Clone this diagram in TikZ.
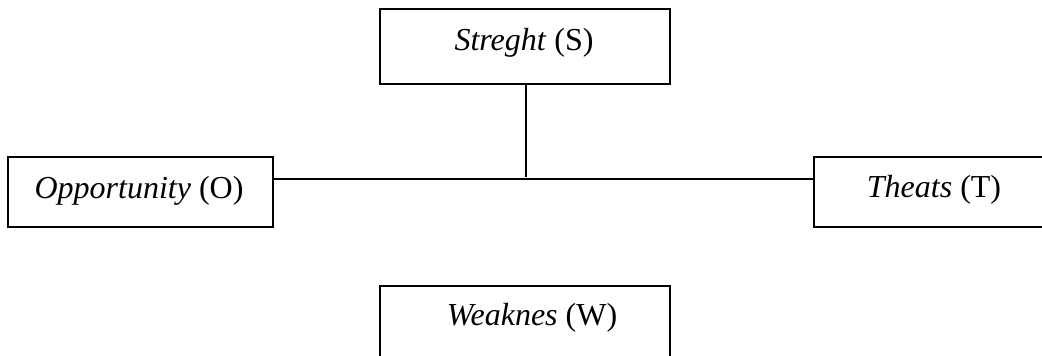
\documentclass[tikz,border=0pt]{standalone}
\usepackage{fontspec}
\setmainfont{Liberation Serif}
\begin{document}
\begin{tikzpicture}[x=1pt,y=-1pt,
  box/.style={draw=black,line width=2pt,rectangle,inner sep=0pt,fill=none},
  lbl/.style={inner sep=0pt,font=\fontsize{32}{38}\selectfont},
  conn/.style={draw=black,line width=2pt}]
\useasboundingbox[fill=white] (0,0) rectangle (1042,356);
\node[box,minimum width=290pt,minimum height=75pt] (S) at (525,46.5) {};
\node[box,minimum width=265pt,minimum height=70pt] (O) at (140.5,192) {};
\node[box,minimum width=238pt,minimum height=70pt] (T) at (933,192) {};
\node[box,minimum width=290pt,minimum height=74pt] (W) at (525,323) {};
\node[lbl] (St) at (524,43) {\textit{Streght} (S)};
\node[lbl] (Ot) at (139,190.5) {\textit{Opportunity} (O)};
\node[lbl] (Tt) at (934,189.5) {\textit{Theats} (T)};
\node[lbl] (Wt) at (532,318) {\textit{Weaknes} (W)};
\coordinate (j) at (526,179);
\coordinate (jt) at (526,177);
\draw[conn] (O.east |- j) -- (T.west |- j);
\draw[conn] (S.south -| jt) -- (jt);
\end{tikzpicture}
\end{document}
